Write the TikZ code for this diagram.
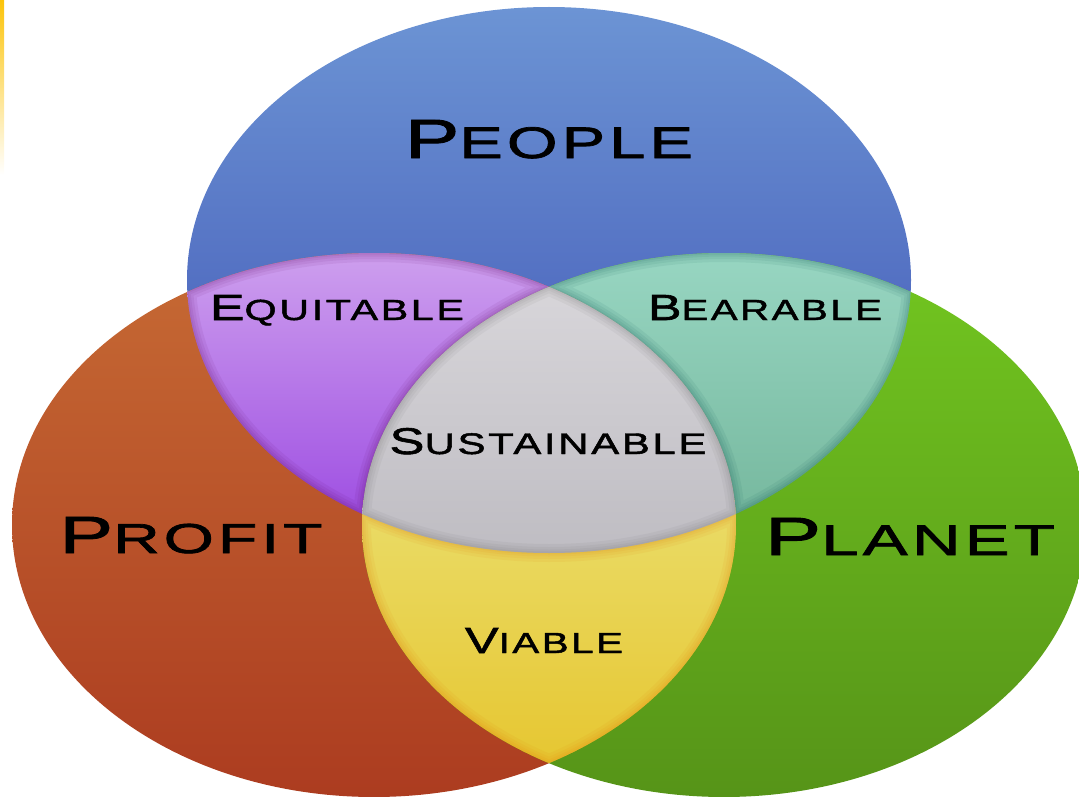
\documentclass[tikz,border=0pt]{standalone}
\usepackage{fontspec}
\usepackage{graphicx}
\usepackage{tikz}
\newfontfamily\vennfont[FakeStretch=1.3,LetterSpace=8,FakeBold=1.6]{Liberation Sans}

\definecolor{peopletop}{RGB}{108,148,212}
\definecolor{peoplebot}{RGB}{60,78,178}
\definecolor{profittop}{RGB}{198,106,52}
\definecolor{profitbot}{RGB}{172,60,32}
\definecolor{planettop}{RGB}{114,198,32}
\definecolor{planetbot}{RGB}{86,148,24}
\definecolor{equitop}{RGB}{206,160,238}
\definecolor{equibot}{RGB}{158,78,226}
\definecolor{beartop}{RGB}{152,214,194}
\definecolor{bearbot}{RGB}{118,184,158}
\definecolor{sustop}{RGB}{216,214,218}
\definecolor{susbot}{RGB}{190,188,194}
\definecolor{viatop}{RGB}{234,220,104}
\definecolor{viabot}{RGB}{230,198,48}
\definecolor{edgeyellow}{RGB}{252,196,10}

\newcommand{\People}{(549,-280) ellipse [x radius=362pt, y radius=273pt]}
\newcommand{\Profit}{(374,-525) ellipse [x radius=362pt, y radius=272pt]}
\newcommand{\Planet}{(724,-525) ellipse [x radius=362pt, y radius=272pt]}
\newcommand{\vennword}[4]{\resizebox{#1pt}{#2pt}{\vennfont #3\fontsize{8}{8}\selectfont #4}}
\newcommand{\rims}[1]{%
  \foreach \w in {18,12,7,3}
    \draw[rim=#1, line width=\w pt, opacity=0.07] \People \Profit \Planet;}

\tikzset{
  word/.style={anchor=base, inner sep=0pt, text=black},
  rim/.style={draw=#1}
}

\begin{document}
\begin{tikzpicture}[x=1pt, y=1pt]
\useasboundingbox (0,0) rectangle (1079,-797);
\shade[top color=edgeyellow, bottom color=white] (0,0) rectangle (4,-175);
\shade[top color=peopletop, bottom color=peoplebot] \People;
\shade[top color=profittop, bottom color=profitbot] \Profit;
\shade[top color=planettop, bottom color=planetbot] \Planet;
\begin{scope}
  \clip \People;
  \clip \Profit;
  \shade[top color=equitop, bottom color=equibot] (180,-250) rectangle (560,-520);
  \rims{violet!70!black}
\end{scope}
\begin{scope}
  \clip \People;
  \clip \Planet;
  \shade[top color=beartop, bottom color=bearbot] (540,-250) rectangle (920,-520);
  \rims{teal!60!black}
\end{scope}
\begin{scope}
  \clip \Profit;
  \clip \Planet;
  \shade[top color=viatop, bottom color=viabot] (350,-500) rectangle (750,-770);
  \rims{orange!90!black}
\end{scope}
\begin{scope}
  \clip \People;
  \clip \Profit;
  \clip \Planet;
  \shade[top color=sustop, bottom color=susbot] (350,-280) rectangle (750,-560);
  \rims{black!60}
\end{scope}
\node[word] (people) at (549,-158) {\vennword{288}{38}{P}{EOPLE}};
\node[word] (profit) at (191,-553) {\vennword{263}{36}{P}{ROFIT}};
\node[word] (planet) at (910,-555) {\vennword{290}{37}{P}{LANET}};
\node[word] (equitable) at (337,-320) {\vennword{254}{25}{E}{QUITABLE}};
\node[word] (bearable) at (765,-320) {\vennword{234}{25}{B}{EARABLE}};
\node[word] (sustainable) at (548,-454) {\vennword{317}{26}{S}{USTAINABLE}};
\node[word] (viable) at (544,-653) {\vennword{158}{25}{V}{IABLE}};
\end{tikzpicture}
\end{document}
